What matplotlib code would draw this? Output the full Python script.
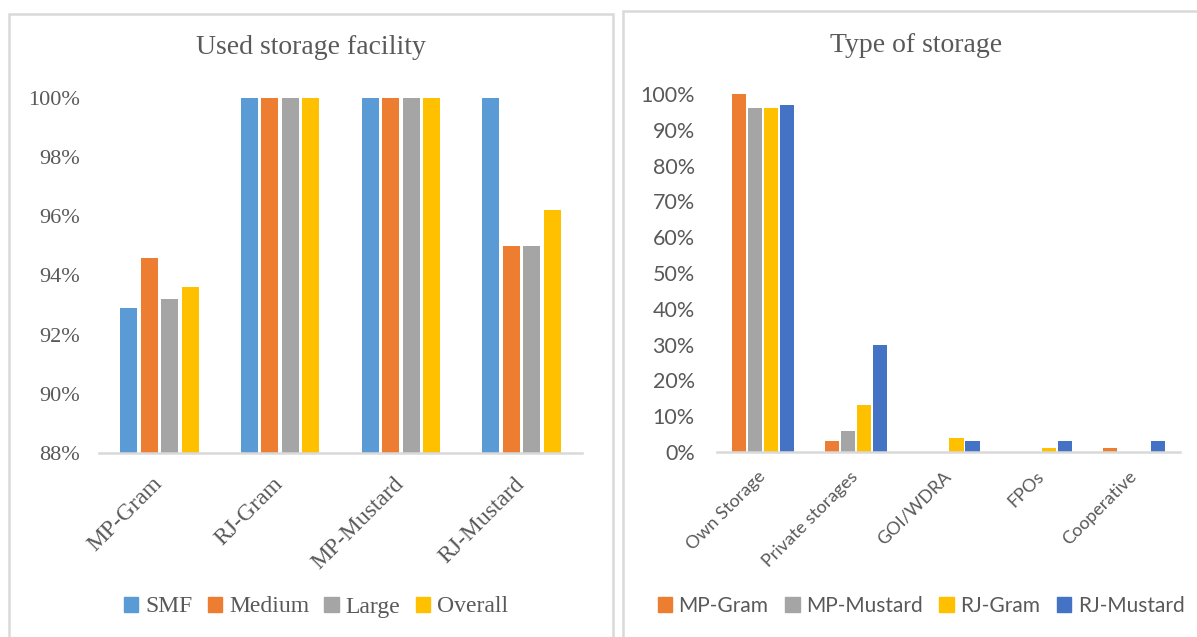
import numpy as np
import matplotlib.pyplot as plt
from matplotlib.patches import Patch, Rectangle

# left panel: share of farmers using a storage facility
crops = ["MP-Gram", "RJ-Gram", "MP-Mustard", "RJ-Mustard"]
farm_groups = ["SMF", "Medium", "Large", "Overall"]
smf = [92.9, 100, 100, 100]
medium = [94.6, 100, 100, 95.0]
large = [93.2, 100, 100, 95.0]
overall = [93.6, 100, 100, 96.2]

# right panel: type of storage used
storage_types = ["Own Storage", "Private storages", "GOI/WDRA", "FPOs", "Cooperative"]
series_names = ["MP-Gram", "MP-Mustard", "RJ-Gram", "RJ-Mustard"]
mp_gram = [100, 3, 0, 0, 1]
mp_mustard = [96, 6, 0, 0, 0]
rj_gram = [96, 13, 4, 1, 0]
rj_mustard = [97, 30, 3, 3, 3]

BLUE = "#5B9BD5"
ORANGE = "#ED7D31"
GREY = "#A5A5A5"
GOLD = "#FFC000"
DBLUE = "#4472C4"
TEXT = "#595959"
LINE = "#D9D9D9"

W, H = 1197, 637
fig = plt.figure(figsize=(W / 100, H / 100), dpi=100)
fig.patch.set_facecolor("white")

# panel borders
fig.add_artist(Rectangle((9 / W, -0.01), 604 / W, 1 - 14 / H + 0.01,
                         transform=fig.transFigure, fill=False,
                         edgecolor=LINE, linewidth=1.8))
fig.add_artist(Rectangle((623 / W, -0.01), 0.6, 1 - 11 / H + 0.01,
                         transform=fig.transFigure, fill=False,
                         edgecolor=LINE, linewidth=1.8))


def style_axes(ax):
    for side in ["top", "right", "left"]:
        ax.spines[side].set_visible(False)
    ax.spines["bottom"].set_color(LINE)
    ax.spines["bottom"].set_linewidth(1.8)
    ax.tick_params(length=0, colors=TEXT)


# ---- Used storage facility ----
serif = "Liberation Serif"
ax1 = fig.add_axes([99 / W, 1 - 453 / H, 483 / W, 355 / H])
style_axes(ax1)
x = np.arange(len(crops))
slot, bw = 0.17, 0.14
for i, (vals, col) in enumerate(zip([smf, medium, large, overall],
                                    [BLUE, ORANGE, GREY, GOLD])):
    ax1.bar(x + (i - 1.5) * slot, vals, width=bw, color=col, zorder=2)
ax1.set_xlim(-0.5, len(crops) - 0.5)
ax1.set_ylim(88, 100)
ax1.set_yticks(np.arange(88, 101, 2))
ax1.set_yticklabels([f"{v}%" for v in range(88, 101, 2)],
                    fontsize=16, family=serif, color=TEXT)
ax1.tick_params(axis="y", pad=14)
ax1.set_xticks(x)
ax1.set_xticklabels(crops, rotation=45, ha="right", va="center",
                    rotation_mode="anchor", fontsize=17, family=serif,
                    color=TEXT)
ax1.tick_params(axis="x", pad=20)
fig.text(311 / W, 1 - 48 / H, "Used storage facility", ha="center",
         va="center", fontsize=20, family=serif, color=TEXT)
handles1 = [Patch(color=c, label=n) for c, n in
            zip([BLUE, ORANGE, GREY, GOLD], farm_groups)]
fig.legend(handles=handles1, loc="center", bbox_to_anchor=(316 / W, 1 - 607 / H),
           ncol=4, frameon=False, handlelength=0.6, handleheight=0.6,
           handletextpad=0.3, columnspacing=0.65,
           prop={"family": serif, "size": 17}, labelcolor=TEXT)

# ---- Type of storage ----
sans = "Lato"
ax2 = fig.add_axes([717 / W, 1 - 452 / H, 463 / W, 358 / H])
style_axes(ax2)
x2 = np.arange(len(storage_types))
slot2, bw2 = 0.173, 0.152
for i, (vals, col) in enumerate(zip([mp_gram, mp_mustard, rj_gram, rj_mustard],
                                    [ORANGE, GREY, GOLD, DBLUE])):
    ax2.bar(x2 + (i - 1.5) * slot2, vals, width=bw2, color=col, zorder=2)
ax2.set_xlim(-0.5, len(storage_types) - 0.5)
ax2.set_ylim(0, 100)
ax2.set_yticks(np.arange(0, 101, 10))
ax2.set_yticklabels([f"{v}%" for v in range(0, 101, 10)],
                    fontsize=15.5, family=sans, color=TEXT)
ax2.tick_params(axis="y", pad=16)
ax2.set_xticks(x2)
ax2.set_xticklabels(storage_types, rotation=45, ha="right", va="center",
                    rotation_mode="anchor", fontsize=13, family=sans,
                    color=TEXT)
ax2.tick_params(axis="x", pad=16)
fig.text(916 / W, 1 - 46 / H, "Type of storage", ha="center",
         va="center", fontsize=20, family=serif, color=TEXT)
handles2 = [Patch(color=c, label=n) for c, n in
            zip([ORANGE, GREY, GOLD, DBLUE], series_names)]
fig.legend(handles=handles2, loc="center", bbox_to_anchor=(921 / W, 1 - 606 / H),
           ncol=4, frameon=False, handlelength=0.7, handleheight=0.7,
           handletextpad=0.3, columnspacing=0.8,
           prop={"family": sans, "size": 15}, labelcolor=TEXT)

fig.savefig("out.png", dpi=100, facecolor="white")
